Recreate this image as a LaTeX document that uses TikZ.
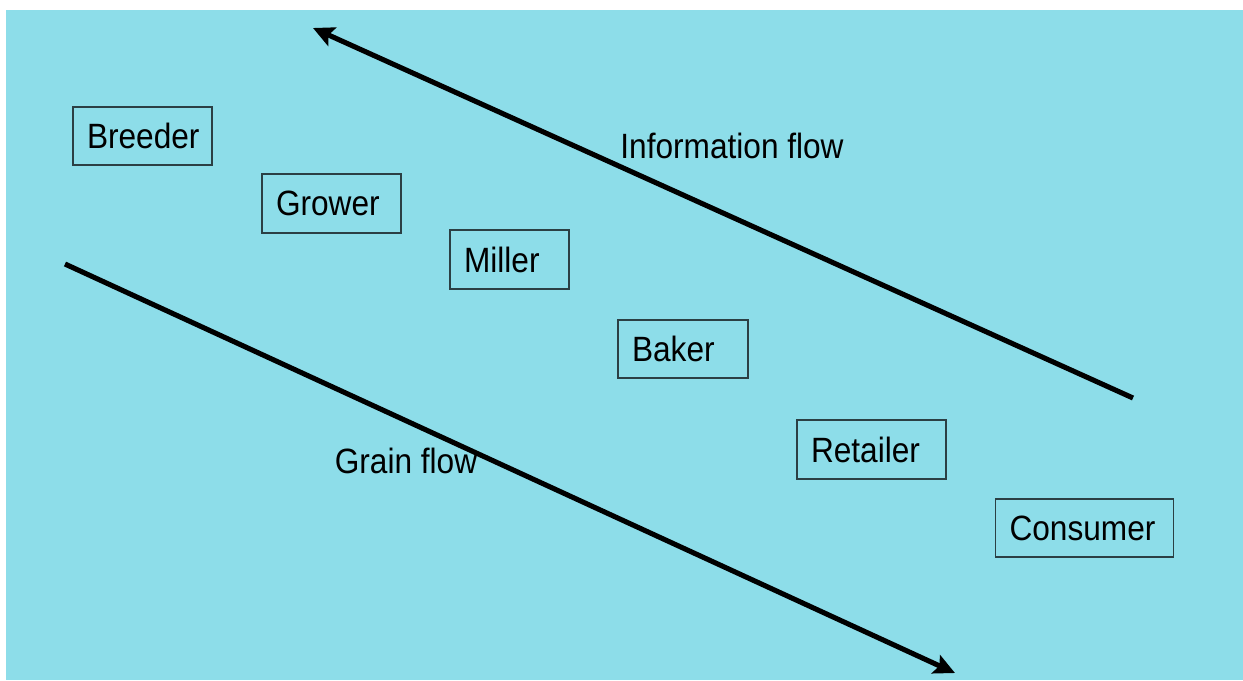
\documentclass[tikz,border=0pt]{standalone}
\usepackage{fontspec}
\setmainfont[FakeStretch=0.9]{Liberation Sans}
\usepackage{xcolor}
\usepackage{tikz}
\usetikzlibrary{positioning,arrows.meta}
\definecolor{skyc}{HTML}{8DDDE9}
\definecolor{edgec}{HTML}{2B3F44}

\begin{document}
\begin{tikzpicture}[x=0.02cm, y=-0.02cm, font=\fontsize{20}{24}\selectfont,
    stage/.style={draw=edgec, line width=0.9pt, align=left, inner xsep=0.28cm, minimum height=1.17cm},
    flow/.style={line width=2.9pt, -{Stealth[length=0.42cm, width=0.4cm, inset=0.08cm]}},
    lbl/.style={inner sep=0pt}]
  \useasboundingbox (0,0) rectangle (1243,680);
  \fill[skyc] (6,10) rectangle (1243,680);
  % chain of stages
  \node[stage, text width=2.22cm] (breeder)  at (142.5,136)   {Breeder};
  \node[stage, text width=2.22cm] (grower)   at (331.5,203.5) {Grower};
  \node[stage, text width=1.82cm] (miller)   at (509.5,259.5) {Miller};
  \node[stage, text width=2.04cm] (baker)    at (683,349)     {Baker};
  \node[stage, text width=2.42cm] (retailer) at (871.5,449.5) {Retailer};
  \node[stage, text width=3.0cm]  (consumer) at (1084.5,528)  {Consumer};
  % flows
  \coordinate (infostart) at (1133,398);
  \coordinate (infoend)   at (313,28);
  \coordinate (grainstart) at (65,264);
  \coordinate (grainend)   at (955,673);
  \draw[flow] (infostart) -- (infoend);
  \draw[flow] (grainstart) -- (grainend);
  \node[lbl] (infolbl)  at (732,146) {Information flow};
  \node[lbl] (grainlbl) at (406,460.5) {Grain flow};
\end{tikzpicture}
\end{document}
